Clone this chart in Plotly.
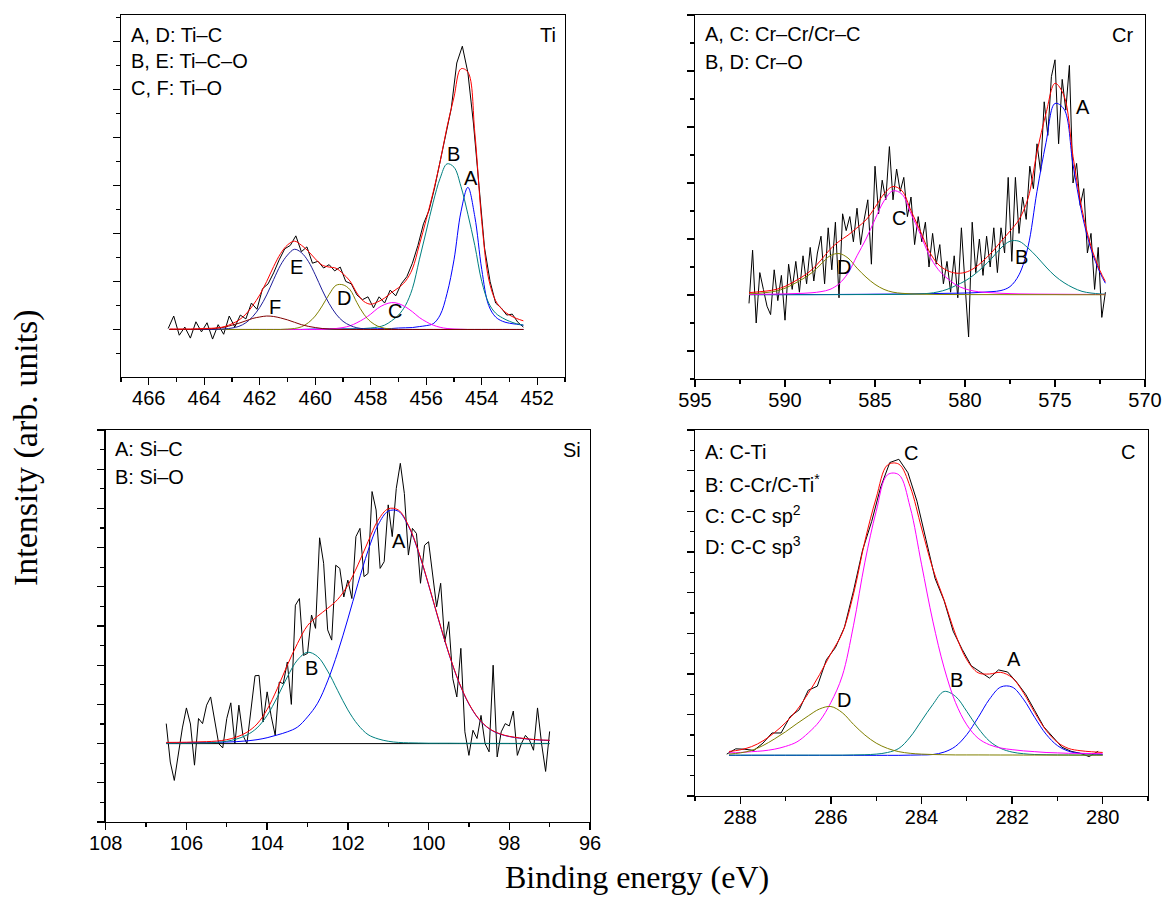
import numpy as np
import plotly.graph_objects as go

# ---------------- Ti 2p ----------------
ti_raw = [0.02, 0.28, -0.12, 0.05, -0.18, 0.16, -0.05, 0.14, -0.2, 0.1,
          -0.1, 0.28, 0.05, 0.3, 0.22, 0.55, 0.42, 0.85, 0.95, 1.18,
          1.45, 1.68, 1.75, 1.95, 1.62, 1.72, 1.38, 1.42, 1.28, 1.35,
          1.22, 1.3, 1.0, 0.95, 0.72, 0.62, 0.68, 0.45, 0.68, 0.55,
          0.82, 0.7, 0.95, 1.1, 1.38, 1.75, 2.2, 2.48, 2.95, 3.5,
          4.0, 4.6, 5.55, 5.9, 5.35, 4.3, 3.0, 1.7, 1.0, 0.55,
          0.45, 0.3, 0.32, 0.15, 0.05]
ti_fit = [0.01, 0.01, 0.01, 0.01, 0.015, 0.02, 0.025, 0.035, 0.062, 0.12,
          0.195, 0.32, 0.5, 0.72, 1.0, 1.31, 1.58, 1.76, 1.84, 1.755,
          1.63, 1.47, 1.34, 1.3, 1.275, 1.16, 1.01, 0.76, 0.585, 0.526,
          0.575, 0.655, 0.77, 0.87, 1.005, 1.26, 1.76, 2.29, 2.86, 3.495,
          4.22, 4.84, 5.43, 5.36, 4.1, 2.25, 1.05, 0.6, 0.41, 0.3,
          0.23, 0.18]
ti_A = [0, 0, 0, 0, 0, 0, 0, 0, 0, 0,
        0, 0, 0, 0, 0, 0, 0, 0, 0, 0,
        0.005, 0.01, 0.01, 0.01, 0.01, 0.01, 0.01, 0.01, 0.01, 0.01,
        0.015, 0.02, 0.02, 0.03, 0.035, 0.04, 0.06, 0.08, 0.12, 0.3,
        0.75, 1.45, 2.45, 2.96, 2.35, 1.25, 0.5, 0.26, 0.17, 0.13,
        0.11, 0.09]
ti_B = [0, 0, 0, 0, 0, 0, 0, 0, 0, 0,
        0, 0, 0, 0, 0, 0, 0, 0, 0, 0,
        0, 0, 0, 0, 0, 0.01, 0.01, 0.015, 0.02, 0.03,
        0.05, 0.09, 0.18, 0.3, 0.5, 0.85, 1.45, 2.05, 2.65, 3.15,
        3.45, 3.38, 2.98, 2.4, 1.75, 1.0, 0.55, 0.34, 0.24, 0.17,
        0.12, 0.09]
ti_C = [0, 0, 0, 0, 0, 0, 0, 0, 0, 0,
        0, 0, 0, 0, 0, 0, 0, 0, 0, 0,
        0, 0, 0, 0.01, 0.02, 0.04, 0.075, 0.14, 0.22, 0.32,
        0.44, 0.52, 0.56, 0.54, 0.47, 0.37, 0.25, 0.16, 0.09, 0.045,
        0.02, 0.01, 0.005, 0, 0, 0, 0, 0, 0, 0,
        0, 0]
ti_D = [0, 0, 0, 0, 0, 0, 0, 0, 0, 0,
        0, 0, 0, 0, 0, 0, 0, 0.008, 0.02, 0.055,
        0.14, 0.28, 0.49, 0.73, 0.92, 0.93, 0.83, 0.56, 0.32, 0.16,
        0.07, 0.025, 0.01, 0, 0, 0, 0, 0, 0, 0,
        0, 0, 0, 0, 0, 0, 0, 0, 0, 0,
        0, 0]
ti_E = [0, 0, 0, 0, 0, 0, 0, 0.005, 0.012, 0.03,
        0.065, 0.14, 0.27, 0.46, 0.72, 1.04, 1.34, 1.55, 1.67, 1.6,
        1.42, 1.14, 0.82, 0.54, 0.32, 0.17, 0.085, 0.035, 0.015, 0.006,
        0, 0, 0, 0, 0, 0, 0, 0, 0, 0,
        0, 0, 0, 0, 0, 0, 0, 0, 0, 0,
        0, 0]
ti_F = [0, 0, 0, 0, 0.005, 0.01, 0.015, 0.03, 0.05, 0.09,
        0.13, 0.18, 0.23, 0.26, 0.28, 0.27, 0.24, 0.2, 0.15, 0.1,
        0.065, 0.04, 0.02, 0.01, 0.005, 0, 0, 0, 0, 0,
        0, 0, 0, 0, 0, 0, 0, 0, 0, 0,
        0, 0, 0, 0, 0, 0, 0, 0, 0, 0,
        0, 0]
ti_raw_ev = np.linspace(465.3, 452.5, len(ti_raw))
ti_fit_ev = np.linspace(465.25, 452.5, len(ti_fit))
ti_legend = ["A, D: Ti–C", "B, E: Ti–C–O", "C, F: Ti–O"]
ti_peak_text = ["A", "B", "C", "D", "E", "F"]
ti_peak_ev = [454.39, 455.03, 457.13, 458.98, 460.69, 461.46]
ti_peak_y = [3.15, 3.65, 0.38, 0.66, 1.30, 0.47]

# ---------------- Cr 2p ----------------
cr_raw = [-0.15, 0.8, -0.5, 0.4, 0.1, -0.2, -0.35, 0.45, -0.1, 0.35,
          -0.45, 0.55, 0.1, 0.6, 0.05, 0.7, 0.2, 0.85, 0.25, 0.75,
          1.05, 0.2, 1.2, 0.45, 1.3, -0.05, 1.45, 1.15, 1.4, 0.95,
          1.55, 0.9, 1.35, 1.7, 0.55, 2.3, 1.45, 2.05, 1.7, 2.65,
          1.7, 2.25, 1.85, 2.1, 1.4, 1.75, 0.9, 1.4, 0.95, 1.3,
          0.5, 1.1, 0.55, 0.9, 0.2, 0.6, 0.05, 0.7, -0.05, 1.2,
          0.2, -0.75, 1.3, 0.4, 1.0, 0.35, 1.05, 0.5, 1.2, 0.4,
          1.2, 0.75, 2.1, 0.6, 2.1, 1.1, 1.75, 1.35, 2.3, 1.9,
          2.7, 2.2, 3.45, 2.85, 3.9, 4.2, 2.7, 3.85, 3.3, 4.1,
          2.0, 2.35, 1.6, 1.9, 0.75, 1.1, 0.1, 0.85, -0.4, 0.05]
cr_fit = [0.043, 0.055, 0.072, 0.099, 0.153, 0.238, 0.333, 0.453, 0.624, 0.815,
          0.957, 1.068, 1.2, 1.341, 1.563, 1.805, 1.937, 1.86, 1.505, 1.157,
          0.787, 0.552, 0.439, 0.39, 0.403, 0.477, 0.607, 0.767, 0.957, 1.141,
          1.346, 1.724, 2.552, 3.241, 3.78, 3.558, 2.477, 1.531, 0.87, 0.435,
          0.24]
cr_A = [0.008, 0.008, 0.008, 0.008, 0.008, 0.008, 0.008, 0.008, 0.008, 0.009,
        0.01, 0.011, 0.012, 0.013, 0.015, 0.016, 0.017, 0.018, 0.02, 0.022,
        0.025, 0.027, 0.03, 0.032, 0.035, 0.04, 0.05, 0.06, 0.08, 0.15,
        0.36, 0.86, 1.85, 2.72, 3.42, 3.32, 2.33, 1.45, 0.82, 0.4,
        0.21]
cr_B = [0.005, 0.005, 0.005, 0.005, 0.005, 0.005, 0.005, 0.005, 0.006, 0.006,
        0.007, 0.007, 0.008, 0.008, 0.008, 0.009, 0.01, 0.012, 0.015, 0.02,
        0.03, 0.055, 0.1, 0.17, 0.25, 0.36, 0.5, 0.66, 0.84, 0.96,
        0.96, 0.84, 0.68, 0.5, 0.34, 0.22, 0.13, 0.065, 0.035, 0.02,
        0.015]
cr_C = [0.01, 0.012, 0.014, 0.016, 0.02, 0.025, 0.03, 0.04, 0.06, 0.1,
        0.2, 0.39, 0.7, 1.0, 1.35, 1.68, 1.86, 1.8, 1.45, 1.1,
        0.72, 0.46, 0.3, 0.18, 0.11, 0.07, 0.05, 0.04, 0.03, 0.025,
        0.02, 0.018, 0.016, 0.015, 0.014, 0.013, 0.012, 0.011, 0.01, 0.01,
        0.01]
cr_D = [0.02, 0.03, 0.045, 0.07, 0.12, 0.2, 0.29, 0.4, 0.55, 0.7,
        0.74, 0.66, 0.48, 0.32, 0.19, 0.1, 0.05, 0.03, 0.02, 0.015,
        0.012, 0.01, 0.009, 0.008, 0.008, 0.007, 0.007, 0.007, 0.007, 0.006,
        0.006, 0.006, 0.006, 0.006, 0.006, 0.005, 0.005, 0.005, 0.005, 0.005,
        0.005]
cr_raw_ev = np.linspace(592.0, 572.2, len(cr_raw))
cr_fit_ev = [592.0 - 0.5 * i for i in range(len(cr_fit) - 1)] + [572.2]
cr_legend = ["A, C: Cr–Cr/Cr–C", "B, D: Cr–O"]
cr_peak_text = ["A", "B", "C", "D"]
cr_peak_ev = [573.46, 576.85, 583.65, 586.7]
cr_peak_y = [3.36, 0.68, 1.37, 0.5]

# ---------------- Si 2p ----------------
si_raw = [0.51, -0.47, -0.94, -0.21, 0.4, 0.91, 0.5, -0.55, 0.64, 0.51,
          0.98, 1.19, 0.6, 0.0, -0.11, 0.64, 1.04, 0.0, 0.98, 0.21,
          0.0, 0.9, 1.73, 1.74, 0.55, 1.32, 0.7, 0.21, 1.57, 1.53,
          2.08, 1.0, 3.53, 3.7, 2.25, 2.3, 3.28, 2.94, 5.25, 4.6,
          2.9, 2.64, 4.55, 4.47, 3.74, 4.17, 3.7, 5.28, 5.49, 4.26,
          4.34, 6.43, 5.96, 4.47, 4.64, 6.09, 5.28, 6.51, 7.15, 6.38,
          4.81, 5.49, 5.36, 4.09, 5.06, 5.15, 4.26, 3.49, 4.09, 2.6,
          3.11, 1.66, 1.19, 2.43, 0.3, -0.3, 0.34, 0.13, 0.72, 0.0,
          -0.21, 2.0, -0.34, 0.3, 0.51, 0.45, 0.83, -0.3, 0.0, 0.21,
          0.09, -0.17, 0.91, 0.0, -0.71, 0.31]
si_fit = [0.03, 0.032, 0.035, 0.043, 0.05, 0.065, 0.1, 0.17, 0.29, 0.5,
          0.87, 1.4, 2.0, 2.55, 3.01, 3.25, 3.45, 3.68, 4.04, 4.56,
          5.15, 5.7, 5.99, 5.96, 5.57, 4.905, 4.06, 3.16, 2.31, 1.578,
          1.018, 0.627, 0.386, 0.256, 0.185, 0.145, 0.115, 0.095, 0.085]
si_A = [0.02, 0.022, 0.025, 0.028, 0.03, 0.035, 0.04, 0.05, 0.07, 0.1,
        0.15, 0.22, 0.3, 0.42, 0.68, 1.03, 1.6, 2.33, 3.18, 4.08,
        4.92, 5.58, 5.93, 5.93, 5.55, 4.89, 4.05, 3.15, 2.3, 1.57,
        1.01, 0.62, 0.38, 0.25, 0.18, 0.14, 0.11, 0.09, 0.08]
si_B = [0.01, 0.01, 0.01, 0.015, 0.02, 0.03, 0.06, 0.12, 0.22, 0.4,
        0.72, 1.18, 1.7, 2.13, 2.33, 2.22, 1.85, 1.35, 0.86, 0.48,
        0.23, 0.12, 0.06, 0.03, 0.02, 0.015, 0.01, 0.01, 0.01, 0.008,
        0.008, 0.007, 0.006, 0.006, 0.005, 0.005, 0.005, 0.005, 0.005]
si_bg = [0.0, 0.0]
si_bg_ev = [106.5, 97.0]
si_raw_ev = np.linspace(106.5, 97.0, len(si_raw))
si_fit_ev = np.linspace(106.5, 97.0, len(si_fit))
si_legend = ["A: Si–C", "B: Si–O"]
si_peak_text = ["A", "B"]
si_peak_ev = [100.73, 102.89]
si_peak_y = [5.18, 1.92]

# ---------------- C 1s ----------------
c_raw = [0.03, 0.16, 0.15, 0.12, 0.3, 0.55, 0.55, 0.95, 1.12, 1.6,
         1.7, 2.35, 2.65, 3.15, 4.05, 5.05, 5.75, 6.6, 7.2, 7.28,
         6.95, 6.25, 5.3, 4.35, 3.8, 3.05, 2.6, 2.2, 2.05, 1.9,
         2.1, 2.05, 1.8, 1.5, 1.1, 0.7, 0.45, 0.2, 0.1, 0.05,
         -0.03, 0.1]
c_fit = [0.095, 0.135, 0.215, 0.355, 0.555, 0.805, 1.115, 1.525, 1.985, 2.505,
         3.005, 3.97, 5.265, 6.33, 7.14, 7.16, 6.605, 5.59, 4.59, 3.815,
         2.98, 2.35, 2.03, 2.0, 2.04, 1.91, 1.54, 1.05, 0.615, 0.32,
         0.168, 0.115, 0.088, 0.071]
c_A = [0, 0, 0, 0, 0, 0, 0, 0, 0, 0,
       0, 0, 0, 0, 0, 0, 0.005, 0.01, 0.02, 0.08,
       0.22, 0.51, 0.93, 1.38, 1.68, 1.68, 1.38, 0.93, 0.52, 0.24,
       0.1, 0.05, 0.03, 0.02]
c_B = [0.005, 0.005, 0.005, 0.005, 0.005, 0.005, 0.005, 0.005, 0.005, 0.005,
       0.005, 0.01, 0.015, 0.03, 0.07, 0.17, 0.45, 0.85, 1.25, 1.57,
       1.45, 1.08, 0.67, 0.35, 0.17, 0.08, 0.04, 0.02, 0.015, 0.01,
       0.008, 0.007, 0.006, 0.005]
c_C = [0.06, 0.07, 0.09, 0.11, 0.15, 0.22, 0.33, 0.55, 0.84, 1.3,
       1.95, 3.2, 4.75, 6.0, 6.9, 6.9, 6.1, 4.7, 3.3, 2.15,
       1.3, 0.75, 0.42, 0.26, 0.18, 0.14, 0.11, 0.09, 0.07, 0.06,
       0.05, 0.05, 0.045, 0.04]
c_D = [0.03, 0.06, 0.12, 0.24, 0.4, 0.58, 0.78, 0.97, 1.14, 1.2,
       1.05, 0.76, 0.5, 0.3, 0.17, 0.09, 0.05, 0.03, 0.02, 0.015,
       0.01, 0.01, 0.01, 0.009, 0.008, 0.008, 0.007, 0.007, 0.006, 0.006,
       0.006, 0.005, 0.005, 0.005]
c_raw_ev = np.linspace(288.3, 280.1, len(c_raw))
c_fit_ev = np.linspace(288.25, 280.0, len(c_fit))
c_legend = ["A: C-Ti", "B: C-Cr/C-Ti<sup>*</sup>", "C: C-C sp<sup>2</sup>", "D: C-C sp<sup>3</sup>"]
c_peak_text = ["A", "B", "C", "D"]
c_peak_ev = [281.95, 283.22, 284.23, 285.72]
c_peak_y = [2.38, 1.86, 7.43, 1.35]

# ---------------- styling ----------------
W, H = 1167, 899
SANS = "Liberation Sans, Arial, sans-serif"
SERIF = "Liberation Serif, Times New Roman, serif"
BLUE, TEAL, MAG, OLIVE, NAVY, BROWN = "#0000ff", "#008080", "#ff00ff", "#808000", "#1c1c9a", "#800000"
FS = 20

fig = go.Figure()


def line(xa, ya, x, y, color, shape="spline", width=1.0):
    fig.add_trace(go.Scatter(x=list(x), y=list(y), xaxis=xa, yaxis=ya, mode="lines",
                             line=dict(color=color, width=width, shape=shape),
                             hoverinfo="skip", showlegend=False))


# Ti
line("x", "y", ti_raw_ev, ti_raw, "black", "linear")
for comp, col in [(ti_A, BLUE), (ti_B, TEAL), (ti_C, MAG), (ti_D, OLIVE), (ti_E, NAVY), (ti_F, BROWN)]:
    line("x", "y", ti_fit_ev, comp, col)
line("x", "y", ti_fit_ev, ti_fit, "red")
# Cr
line("x2", "y2", cr_raw_ev, cr_raw, "black", "linear")
for comp, col in [(cr_A, BLUE), (cr_B, TEAL), (cr_C, MAG), (cr_D, OLIVE)]:
    line("x2", "y2", cr_fit_ev, comp, col)
line("x2", "y2", cr_fit_ev, cr_fit, "red")
# Si
line("x3", "y3", si_raw_ev, si_raw, "black", "linear")
line("x3", "y3", si_bg_ev, si_bg, "black", "linear")
for comp, col in [(si_A, BLUE), (si_B, TEAL)]:
    line("x3", "y3", si_fit_ev, comp, col)
line("x3", "y3", si_fit_ev, si_fit, "red")
# C
line("x4", "y4", c_raw_ev, c_raw, "black", "linear")
for comp, col in [(c_A, BLUE), (c_B, TEAL), (c_C, MAG), (c_D, OLIVE)]:
    line("x4", "y4", c_fit_ev, comp, col)
line("x4", "y4", c_fit_ev, c_fit, "red")


def px(xp):
    return xp / W


def py(yp):
    return 1 - yp / H


def xax(dom, rng, dtick, mdtick, anchor):
    return dict(domain=dom, range=rng, anchor=anchor, showline=True, linecolor="black", linewidth=1.3,
                mirror=True, ticks="outside", ticklen=7, tickwidth=1.3, tickcolor="black",
                tick0=0, dtick=dtick, showgrid=False, zeroline=False, automargin=False,
                ticklabelstandoff=-4,
                tickfont=dict(family=SANS, size=FS, color="black"),
                minor=dict(ticks="outside", ticklen=4, tickwidth=1.3, tickcolor="black",
                           tick0=0, dtick=mdtick, showgrid=False))


def yax(dom, rng, anchor):
    return dict(domain=dom, range=rng, anchor=anchor, showline=True, linecolor="black", linewidth=1.3,
                mirror=True, ticks="outside", ticklen=7, tickwidth=1.3, tickcolor="black",
                tick0=0, dtick=1, showgrid=False, zeroline=False, showticklabels=False, automargin=False,
                minor=dict(ticks="outside", ticklen=4, tickwidth=1.3, tickcolor="black",
                           tick0=0, dtick=0.5, showgrid=False))


fig.update_layout(
    width=W, height=H, margin=dict(l=0, r=0, t=0, b=0, pad=0, autoexpand=False),
    paper_bgcolor="white", plot_bgcolor="white", showlegend=False,
    xaxis=xax([px(121), px(565)], [467, 451], 2, 1, "y"),
    yaxis=yax([py(377), py(15)], [-0.99, 6.55], "x"),
    xaxis2=xax([px(695), px(1145)], [595, 570], 5, 2.5, "y2"),
    yaxis2=yax([py(379), py(15)], [-1.5, 5.0], "x2"),
    xaxis3=xax([px(105.7), px(590)], [108, 96], 2, 1, "y3"),
    yaxis3=yax([py(822), py(430)], [-2, 8], "x3"),
    xaxis4=xax([px(695), px(1148)], [289, 279], 2, 1, "y4"),
    yaxis4=yax([py(796), py(430)], [-1, 8], "x4"),
)

ann = []


def paper_text(text, xp, yp, anchor="left", size=FS, family=SANS, angle=0):
    ann.append(dict(text=text, x=px(xp), y=py(yp), xref="paper", yref="paper", xanchor=anchor,
                    yanchor="middle", showarrow=False, textangle=angle,
                    font=dict(family=family, size=size, color="black")))


for i, t in enumerate(ti_legend):
    paper_text(t, 129, 35 + 26.5 * i)
paper_text("Ti", 558, 35, "right")
for i, t in enumerate(cr_legend):
    paper_text(t, 703, 34 + 28 * i)
paper_text("Cr", 1135, 35, "right")
for i, t in enumerate(si_legend):
    paper_text(t, 113, 449 + 28 * i)
paper_text("Si", 583, 450, "right")
for i, t in enumerate(c_legend):
    paper_text(t, 703, 452 + 31 * i)
paper_text("C", 1137, 452, "right")

for (xa, ya, texts, xs, ys) in [("x", "y", ti_peak_text, ti_peak_ev, ti_peak_y),
                                ("x2", "y2", cr_peak_text, cr_peak_ev, cr_peak_y),
                                ("x3", "y3", si_peak_text, si_peak_ev, si_peak_y),
                                ("x4", "y4", c_peak_text, c_peak_ev, c_peak_y)]:
    for t, xv, yv in zip(texts, xs, ys):
        ann.append(dict(text=t, x=xv, y=yv, xref=xa, yref=ya, showarrow=False,
                        xanchor="center", yanchor="middle",
                        font=dict(family=SANS, size=FS, color="black")))

paper_text("Binding energy (eV)", 636.5, 877, "center", 32, SERIF)
paper_text("Intensity (arb. units)", 26, 448, "center", 34, SERIF, -90)

fig.update_layout(annotations=ann)
fig.write_html(
    "out.html",
    config={"displayModeBar": False, "staticPlot": True},
    post_script="document.body.style.margin='0px';document.body.style.padding='0px';"
                "document.documentElement.style.overflow='hidden';document.body.style.overflow='hidden';",
)
